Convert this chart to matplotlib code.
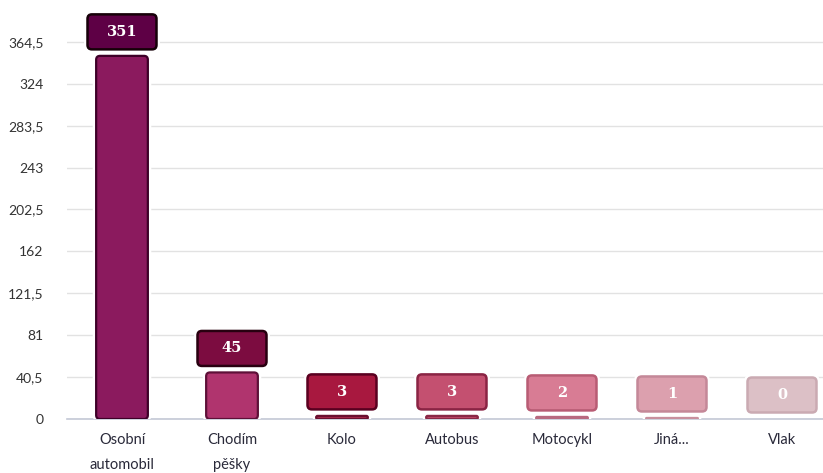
import matplotlib.pyplot as plt
import matplotlib.patheffects as pe
from matplotlib.patches import FancyBboxPatch

# ==========================
# DATA
# ==========================

categories = ["Osobní\nautomobil", "Chodím\npěšky", "Kolo", "Autobus", "Motocykl", "Jiná...", "Vlak"]
values = [351, 45, 3, 3, 2, 1, 0]

bar_colors = ["#8b1a5e", "#b0346e", "#a82a4e", "#c0486a", "#d98aa0", "#e0a8b4", "#e4c8cc"]
bar_edges = ["#3e0028", "#5e1038", "#6a1030", "#8a2846", "#b86a80", "#c8909e", "#d0b0b6"]
box_colors = ["#5e0045", "#7c0c40", "#a8183f", "#c45070", "#d87c94", "#dca0ae", "#dcc0c6"]
box_edges = ["#160008", "#280010", "#5a0020", "#8a2444", "#b85c74", "#c48898", "#caaab2"]

y_ticks = [0, 40.5, 81, 121.5, 162, 202.5, 243, 283.5, 324, 364.5]
y_labels = [f"{t:g}".replace(".", ",") for t in y_ticks]

# ==========================
# FIGURE
# ==========================

W, H = 823, 473
fig = plt.figure(figsize=(W / 100, H / 100), dpi=100)
left_px, bottom_px, top_px = 67, 54, 473
ax = fig.add_axes([left_px / W, bottom_px / H, (W - left_px) / W, (top_px - bottom_px) / H])

px_per_cat = 110
ax.set_xlim(-0.5, -0.5 + (W - left_px) / px_per_cat)
ax.set_ylim(0, 405)
px_per_unit = (top_px - bottom_px) / 405
aspect = (1 / px_per_unit) / (1 / px_per_cat)

x = list(range(len(categories)))
white_halo = [pe.Stroke(linewidth=5, foreground="white"), pe.Normal()]

bars = ax.bar(x, values, width=0.47, color=bar_colors, edgecolor=bar_edges,
              linewidth=1.6, zorder=3)
# swap the square bars for ones with rounded corners
for b in bars:
    bx, by = b.get_x(), b.get_y()
    bw, bh = b.get_width(), b.get_height()
    if bh > 0:
        rb = FancyBboxPatch((bx, by), bw, bh,
                            boxstyle=f"round,pad=0,rounding_size={min(0.035, bh / aspect / 2):.4f}",
                            mutation_aspect=aspect,
                            facecolor=b.get_facecolor(), edgecolor=b.get_edgecolor(),
                            linewidth=1.6, zorder=3)
        rb.set_path_effects(white_halo)
        ax.add_patch(rb)
    b.set_visible(False)

# value labels in rounded boxes above the bars
box_w = 69 / px_per_cat
box_h = 35 / px_per_unit
gap = 24 / px_per_unit
for i, v in enumerate(values):
    cy = v + gap
    box = FancyBboxPatch((i - box_w / 2, cy - box_h / 2), box_w, box_h,
                         boxstyle="round,pad=0,rounding_size=0.04",
                         mutation_aspect=aspect,
                         facecolor=box_colors[i], edgecolor=box_edges[i],
                         linewidth=1.8, zorder=4)
    box.set_path_effects(white_halo)
    ax.add_patch(box)
    ax.text(i, cy, str(v), ha="center", va="center", color="white",
            fontsize=10.5, fontweight="bold", family="DejaVu Serif", zorder=5)

# ==========================
# AXES STYLE
# ==========================

ax.set_yticks(y_ticks)
ax.set_yticklabels(y_labels, fontsize=10, color="#333333", family="Lato")
ax.set_xticks(x)
ax.set_xticklabels(categories, fontsize=10.5, color="#2a2a3a", family="Lato",
                   linespacing=2.0, va="top")
ax.tick_params(axis="y", length=0, pad=17)
ax.tick_params(axis="x", length=0, pad=10)

ax.grid(axis="y", color="#e2e2e2", linewidth=1, zorder=0)
ax.set_axisbelow(True)
for s in ["top", "right", "left"]:
    ax.spines[s].set_visible(False)
ax.spines["bottom"].set_color("#c4c8d6")
ax.spines["bottom"].set_linewidth(1.2)

plt.savefig("out.png", dpi=100)
